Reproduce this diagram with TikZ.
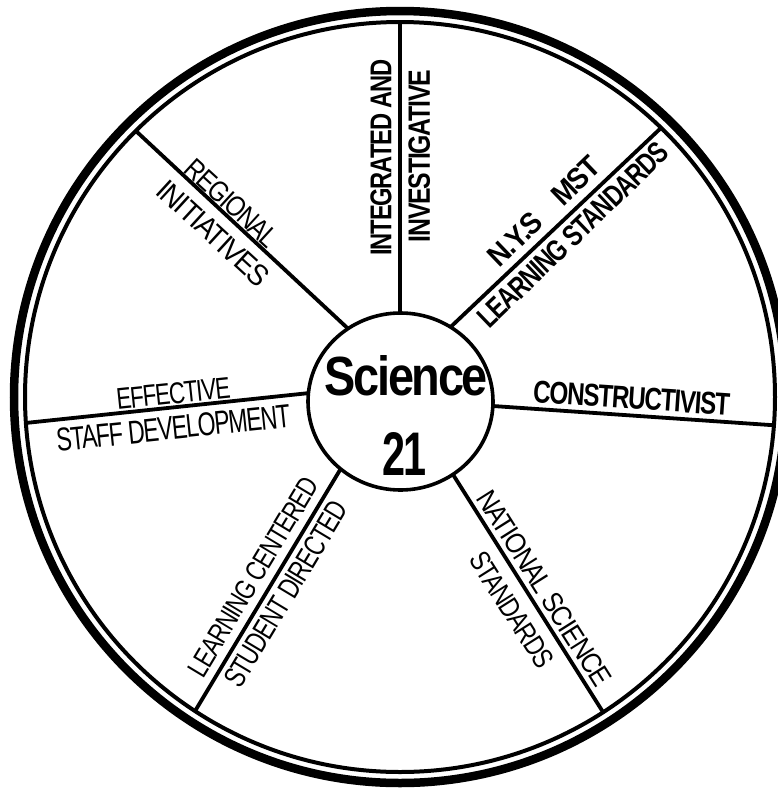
\documentclass[tikz,border=0pt]{standalone}
\usepackage{fontspec}
\setmainfont{Liberation Sans}
\newfontfamily\lblfont[LetterSpace=-5]{Liberation Sans}
\usetikzlibrary{calc,shapes.geometric}
\newcommand{\fitto}[3]{\resizebox{#1pt}{#2pt}{#3}}
\begin{document}
\begin{tikzpicture}[x=1pt,y=-1pt,
  ringthick/.style={line width=8.5pt},
  ringthin/.style={line width=4pt},
  spoke/.style={line width=3.8pt},
  hubstyle/.style={draw, ellipse, fill=white, line width=3.6pt, inner sep=0pt,
                   minimum width=185pt, minimum height=177pt},
  lbl/.style={inner sep=0pt, outer sep=0pt, font=\lblfont}]
\useasboundingbox (0,0) rectangle (778,788);
\fill[white] (0,0) rectangle (778,788);
\coordinate (c) at (400,397);
\draw[ringthick] (c) circle[radius=386pt];
\draw[ringthin] (c) circle[radius=375pt];
% spoke end points: outer (q) and inner (p)
\coordinate (q1) at (400,20);    \coordinate (p1) at (400,313);
\coordinate (q2) at (662,127);   \coordinate (p2) at (458,320);
\coordinate (q3) at (770,425);   \coordinate (p3) at (493,406);
\coordinate (q4) at (601.7,710); \coordinate (p4) at (453.3,475);
\coordinate (q5) at (196.7,708.3); \coordinate (p5) at (340,470);
\coordinate (q6) at (28.3,422.7);  \coordinate (p6) at (306.7,393.3);
\coordinate (q7) at (136.7,131.7); \coordinate (p7) at (342,323);
\begin{scope}
  \clip (c) circle[radius=375pt];
  \foreach \i in {1,...,7}{
    \draw[spoke] ($(p\i)!-0.15!(q\i)$) -- ($(q\i)!-0.05!(p\i)$);
  }
\end{scope}
\node[hubstyle] (hub) at (400.5,401.5) {};
\node[lbl, anchor=base] (sci) at (406.5,395) {\bfseries\fitto{163}{40}{Science}};
\node[lbl, anchor=base] (n21) at (405,475) {\bfseries\fitto{44}{43}{21}};
% labels
\node[lbl, rotate=90] (t1a) at (381,157.5) {\bfseries\fitto{196}{21}{INTEGRATED AND}};
\node[lbl, rotate=90] (t1b) at (419.2,156) {\bfseries\fitto{172}{21.5}{INVESTIGATIVE}};
\node[lbl, rotate=43.8] (t2a) at (544,211) {\bfseries\fitto{144}{21}{N.Y.S\hspace{0.9em}MST}};
\node[lbl, rotate=43.8] (t2b) at (573,235) {\bfseries\fitto{252}{21}{LEARNING STANDARDS}};
\node[lbl, rotate=-3.9] (t3) at (631.7,397.9) {\bfseries\fitto{197}{22}{CONSTRUCTIVIST}};
\node[lbl, rotate=-57.7] (t4a) at (544.2,588.3) {\fitto{226}{20}{NATIONAL SCIENCE}};
\node[lbl, rotate=-57.7] (t4b) at (511.7,610) {\fitto{132}{20}{STANDARDS}};
\node[lbl, rotate=59] (t5a) at (253.3,576.7) {\fitto{227}{20}{LEARNING CENTERED}};
\node[lbl, rotate=59] (t5b) at (285.8,594.2) {\fitto{211}{21}{STUDENT DIRECTED}};
\node[lbl, rotate=6] (t6a) at (173.3,393.4) {\fitto{114}{21}{EFFECTIVE}};
\node[lbl, rotate=6] (t6b) at (173.3,428) {\fitto{235}{23}{STAFF DEVELOPMENT}};
\node[lbl, rotate=-42.5] (t7a) at (231.7,203.3) {\fitto{116}{20}{REGIONAL}};
\node[lbl, rotate=-42.5] (t7b) at (213.3,233.3) {\fitto{141}{21}{INITIATIVES}};
\end{tikzpicture}
\end{document}
